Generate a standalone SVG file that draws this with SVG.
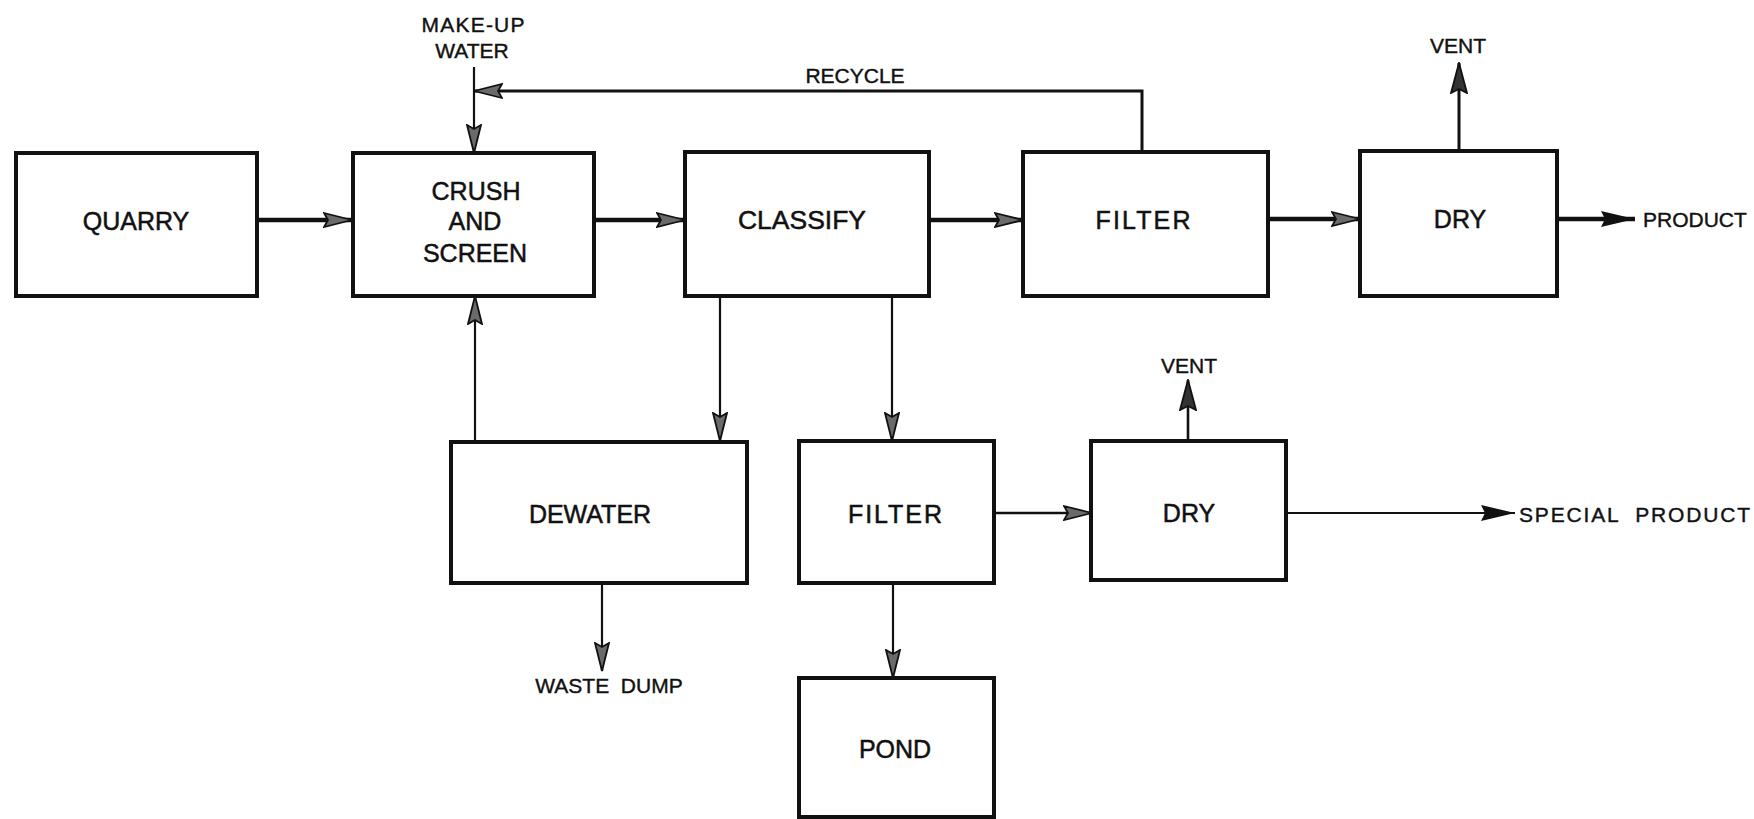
<svg xmlns="http://www.w3.org/2000/svg" width="1754" height="819" viewBox="0 0 1754 819">
<style>
.box{fill:#fff;stroke:#111;stroke-width:4}
.lbl{font-family:"Liberation Sans",Arial,sans-serif;font-size:25px;fill:#111;stroke:#111;stroke-width:0.5;text-anchor:middle}
.sm{font-family:"Liberation Sans",Arial,sans-serif;font-size:21px;fill:#111;stroke:#111;stroke-width:0.4;white-space:pre}
.thick{fill:none;stroke:#111;stroke-width:4.5}
.thin{fill:none;stroke:#111;stroke-width:2.2}
</style>
<defs>
<marker id="hatch" markerUnits="userSpaceOnUse" viewBox="0 0 30 16" markerWidth="30" markerHeight="16" refX="29" refY="8" orient="auto">
<path d="M1,1 L29,8 L1,15 L5,8 Z" fill="#6a6a6a" stroke="#111" stroke-width="1.8"/>
</marker>
<marker id="dark" markerUnits="userSpaceOnUse" viewBox="0 0 32 18" markerWidth="32" markerHeight="18" refX="31" refY="9" orient="auto">
<path d="M1,1 L31,9 L1,17 L5,9 Z" fill="#333" stroke="#111" stroke-width="1.8"/>
</marker>
<marker id="solid" markerUnits="userSpaceOnUse" viewBox="0 0 34 18" markerWidth="34" markerHeight="18" refX="34" refY="9" orient="auto">
<path d="M0,1 L34,9 L0,17 L4,9 Z" fill="#111"/>
</marker>
</defs>
<rect width="1754" height="819" fill="#fff"/>
<g id="connectors">
<path class="thick" d="M257,220 H352" marker-end="url(#hatch)"/>
<path class="thick" d="M594,220 H685" marker-end="url(#hatch)"/>
<path class="thick" d="M929,220 H1023" marker-end="url(#hatch)"/>
<path class="thick" d="M1268,219 H1360" marker-end="url(#hatch)"/>
<path class="thick" d="M1557,219 H1635" marker-end="url(#solid)"/>
<path class="thin" style="stroke-width:3" d="M1459,152 V63" marker-end="url(#dark)"/>
<path class="thin" style="stroke-width:3" d="M1142,152 V91 H474" marker-end="url(#hatch)"/>
<path class="thin" d="M474,67 V153" marker-end="url(#hatch)"/>
<path class="thin" d="M475,442 V296" marker-end="url(#hatch)"/>
<path class="thin" d="M720,296 V441" marker-end="url(#hatch)"/>
<path class="thin" d="M892,296 V441" marker-end="url(#hatch)"/>
<path class="thin" style="stroke-width:2.6" d="M994,513 H1092" marker-end="url(#hatch)"/>
<path class="thin" d="M1286,513 H1515" marker-end="url(#solid)"/>
<path class="thin" style="stroke-width:2.6" d="M1188,441 V380" marker-end="url(#dark)"/>
<path class="thin" d="M602,583 V671" marker-end="url(#hatch)"/>
<path class="thin" d="M893,583 V678" marker-end="url(#hatch)"/>
</g>
<g id="quarry"><rect class="box" x="16" y="153" width="241" height="143"/><text class="lbl" x="136" y="230">QUARRY</text></g>
<g id="crush"><rect class="box" x="353" y="153" width="241" height="143"/><text class="lbl" x="476" y="200">CRUSH</text><text class="lbl" x="475" y="230">AND</text><text class="lbl" x="475" y="262">SCREEN</text></g>
<g id="classify"><rect class="box" x="685" y="152" width="244" height="144"/><text class="lbl" x="802" y="229" textLength="128" lengthAdjust="spacingAndGlyphs">CLASSIFY</text></g>
<g id="filter1"><rect class="box" x="1023" y="152" width="245" height="144"/><text class="lbl" x="1143" y="229" textLength="95" lengthAdjust="spacing">FILTER</text></g>
<g id="dry1"><rect class="box" x="1360" y="151" width="197" height="145"/><text class="lbl" x="1460" y="228">DRY</text></g>
<g id="dewater"><rect class="box" x="451" y="442" width="296" height="141"/><text class="lbl" x="590" y="523">DEWATER</text></g>
<g id="filter2"><rect class="box" x="799" y="441" width="195" height="142"/><text class="lbl" x="895" y="523" textLength="94" lengthAdjust="spacing">FILTER</text></g>
<g id="dry2"><rect class="box" x="1091" y="441" width="195" height="139"/><text class="lbl" x="1189" y="522">DRY</text></g>
<g id="pond"><rect class="box" x="799" y="678" width="195" height="139"/><text class="lbl" x="895" y="758">POND</text></g>
<g id="labels">
<text class="sm" x="473" y="32" text-anchor="middle" textLength="103" lengthAdjust="spacing">MAKE-UP</text>
<text class="sm" x="472" y="58" text-anchor="middle">WATER</text>
<text class="sm" x="855" y="83" text-anchor="middle">RECYCLE</text>
<text class="sm" x="1458" y="53" text-anchor="middle">VENT</text>
<text class="sm" x="1643" y="227">PRODUCT</text>
<text class="sm" x="1189" y="373" text-anchor="middle">VENT</text>
<text class="sm" x="1519" y="522" textLength="231" lengthAdjust="spacing">SPECIAL  PRODUCT</text>
<text class="sm" x="609" y="693" text-anchor="middle">WASTE  DUMP</text>
</g>
</svg>
